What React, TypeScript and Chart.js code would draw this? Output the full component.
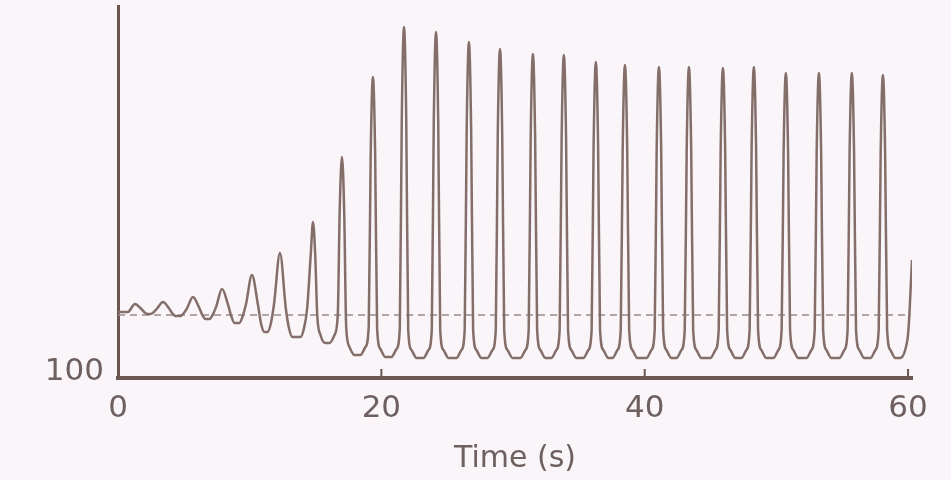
import React, { useEffect, useRef } from 'react';
import { Chart, registerables } from 'chart.js';

Chart.register(...registerables);

// ---- data ----
const xTickValues = [0, 20, 40, 60];
const yTickValues = [100];
const xLabel = 'Time (s)';

// time (s) of each wave crest
const peakTimes = [
  1.29, 3.42, 5.69, 7.9, 10.17, 12.3, 14.81, 17.01, 19.36, 21.72, 24.15, 26.65, 29.01,
  31.51, 33.86, 36.29, 38.5, 41.08, 43.36, 45.94, 48.29, 50.72, 53.23, 55.73, 58.09,
];
// crest values
const peakValues = [
  137, 138, 140.5, 144.5, 151.5, 162.5, 178, 210.5, 250.5, 275.5, 273, 268, 264.5,
  262, 261.5, 258, 256.5, 255.5, 255.5, 255, 255.5, 252.5, 252.5, 252.5, 251.5,
];
// trough value following each crest
const troughValues = [
  132, 131, 129.5, 127.5, 123, 120.5, 117.5, 111.5, 110.5, 110, 110, 110, 110,
  110, 110, 110, 110, 110, 110, 110, 110, 110, 110, 110, 110,
];
const startValue = 133;
const endTime = 60.3;
const endValue = 159;
const referenceLevel = 131.5;
const referenceEnd = 60.2;

function buildWave() {
  const pts: { x: number; y: number }[] = [];
  pts.push({ x: 0, y: startValue });
  pts.push({ x: peakTimes[0] - 0.55, y: startValue });
  for (let i = 0; i < peakTimes.length; i++) {
    const tp = peakTimes[i];
    const vp = peakValues[i];
    const vt = troughValues[i];
    const prevT = i === 0 ? startValue : troughValues[i - 1];
    const amp = vp - vt;
    const big = amp >= 60;
    const hw = big ? 0.32 : 0.45;
    const edge = vt + Math.min(14, amp * 0.55);
    const near = vt + Math.min(4, amp * 0.2);
    const last = i === peakTimes.length - 1;
    const tn = last ? endTime + 0.05 : peakTimes[i + 1];
    const hwn = last ? 0.32 : peakValues[i + 1] - troughValues[i] < 60 ? 0.45 : 0.32;
    if (big) pts.push({ x: tp - 0.17, y: prevT + (vp - prevT) * 0.72 });
    pts.push({ x: tp, y: vp });
    if (big) pts.push({ x: tp + 0.17, y: vt + amp * 0.72 });
    pts.push({ x: tp + hw, y: edge });
    pts.push({ x: tp + hw + 0.25, y: near });
    pts.push({ x: tp + 0.95, y: vt });
    pts.push({ x: tn - 0.95, y: vt });
    pts.push({ x: tn - hwn - 0.25, y: near });
    pts.push({ x: tn - hwn, y: edge });
  }
  pts.push({ x: endTime, y: endValue });
  return pts;
}

const INK = '#6b5651';
const TEXT = '#6d605e';
const FONT = 'DejaVu Sans';

const bgPlugin = {
  id: 'bg',
  beforeDraw(chart: any) {
    const { ctx, width, height } = chart;
    ctx.save();
    ctx.fillStyle = '#f9f5f8';
    ctx.fillRect(0, 0, width, height);
    ctx.restore();
  },
};

const innerTicks = {
  id: 'innerTicks',
  afterDraw(chart: any) {
    const { ctx, chartArea, scales } = chart;
    ctx.save();
    ctx.strokeStyle = INK;
    ctx.lineWidth = 2;
    for (const v of xTickValues) {
      if (v === 0) continue;
      const px = scales.x.getPixelForValue(v);
      ctx.beginPath();
      ctx.moveTo(px, chartArea.bottom);
      ctx.lineTo(px, chartArea.bottom - 9);
      ctx.stroke();
    }
    ctx.restore();
  },
};

export default function App() {
  const ref = useRef<HTMLCanvasElement>(null);
  useEffect(() => {
    const chart = new Chart(ref.current as HTMLCanvasElement, {
      type: 'line',
      data: {
        datasets: [
          {
            data: buildWave(),
            borderColor: '#846e6a',
            borderWidth: 2.5,
            pointRadius: 0,
            cubicInterpolationMode: 'monotone',
            fill: false,
          },
          {
            data: [
              { x: 0, y: referenceLevel },
              { x: referenceEnd, y: referenceLevel },
            ],
            borderColor: '#9b8a88',
            borderWidth: 1.5,
            borderDash: [7, 5],
            pointRadius: 0,
            fill: false,
          },
        ],
      } as any,
      options: {
        responsive: false,
        animation: false,
        events: [],
        plugins: { legend: { display: false }, tooltip: { enabled: false } },
        layout: { padding: { top: 6, right: 39, left: 0, bottom: 0 } },
        scales: {
          x: {
            type: 'linear',
            min: 0,
            max: 60.3,
            afterBuildTicks: (s: any) => {
              s.ticks = xTickValues.map((v) => ({ value: v }));
            },
            afterFit: (s: any) => {
              s.height = 102;
              s.paddingLeft = 0;
              s.paddingRight = 0;
            },
            grid: { display: false, drawTicks: false },
            border: { display: true, color: INK, width: 4 },
            ticks: {
              font: { family: FONT, size: 31 },
              color: TEXT,
              padding: 12,
              maxRotation: 0,
              autoSkip: false,
            },
            title: {
              display: true,
              text: xLabel,
              font: { family: FONT, size: 30 },
              color: TEXT,
              padding: { top: 0, bottom: 3 },
            },
          },
          y: {
            type: 'linear',
            min: 100,
            max: 286,
            afterBuildTicks: (s: any) => {
              s.ticks = yTickValues.map((v) => ({ value: v }));
            },
            afterFit: (s: any) => {
              s.width = 118;
              s.paddingTop = 0;
              s.paddingBottom = 0;
            },
            grid: { display: false, drawTicks: false },
            border: { display: true, color: INK, width: 3 },
            ticks: {
              font: { family: FONT, size: 31 },
              color: TEXT,
              padding: 14,
              labelOffset: -6,
            },
          },
        },
      } as any,
      plugins: [bgPlugin, innerTicks],
    });
    return () => chart.destroy();
  }, []);
  return (
    <div style={{ position: 'fixed', left: 0, top: 0, width: 951, height: 480, background: '#f9f5f8' }}>
      <canvas ref={ref} width={951} height={480} style={{ display: 'block' }} />
    </div>
  );
}
